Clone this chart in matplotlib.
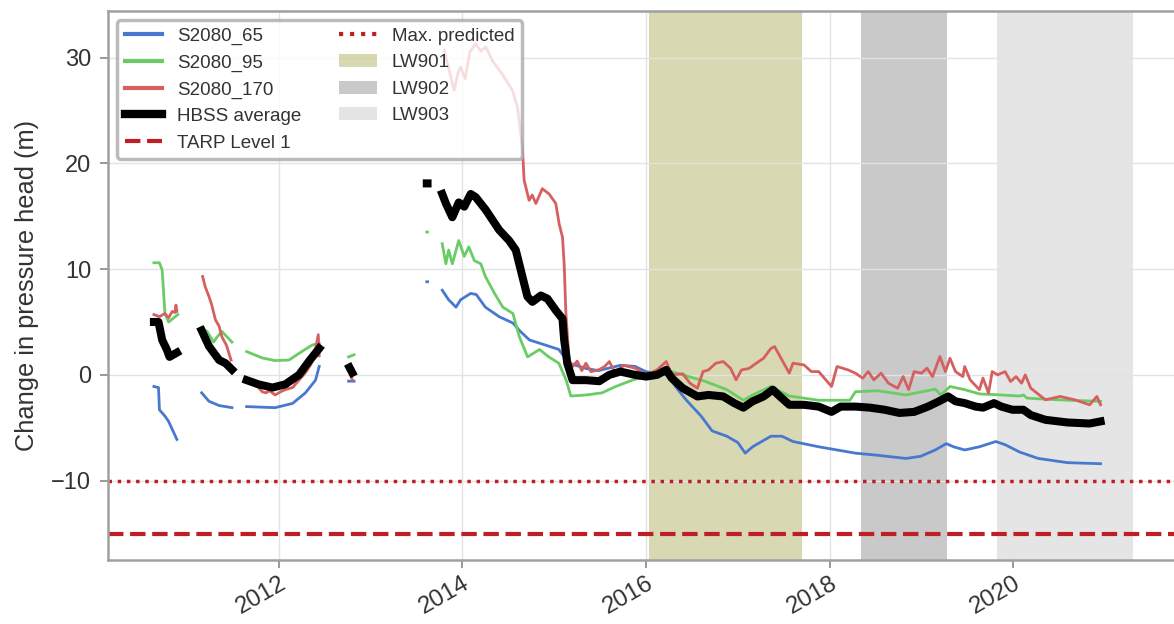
import numpy as np
import matplotlib.pyplot as plt
from matplotlib.patches import Patch
from matplotlib.lines import Line2D

plt.rcParams['font.family'] = ['Liberation Sans', 'DejaVu Sans']

nan = np.nan

# S2080 piezometer at 65 m (decimal year, change in head in m); nan = data gap
yr_65 = [2010.64, 2010.69, 2010.70, 2010.76, 2010.80, 2010.89, 2011.0,
         2011.16, 2011.24, 2011.35, 2011.49, 2011.55,
         2011.65, 2011.80, 2011.96, 2012.15, 2012.29, 2012.40, 2012.44, 2012.6,
         2012.76, 2012.82, 2013.0,
         2013.612, 2013.620, 2013.7,
         2013.78, 2013.85, 2013.93, 2013.98, 2014.09, 2014.15, 2014.25, 2014.40,
         2014.55, 2014.62, 2014.73, 2014.91, 2015.05, 2015.16, 2015.35, 2015.48,
         2015.72, 2015.88, 2016.0, 2016.24, 2016.32, 2016.44, 2016.6, 2016.72,
         2016.88, 2017.0, 2017.08, 2017.16, 2017.36, 2017.48, 2017.6, 2017.88,
         2018.28, 2018.52, 2018.83, 2018.99, 2019.15, 2019.27, 2019.35, 2019.47,
         2019.63, 2019.81, 2019.91, 2020.07, 2020.27, 2020.59, 2020.95]
s2080_65 = [-1.1, -1.2, -3.3, -3.9, -4.4, -6.1, nan,
            -1.7, -2.5, -2.9, -3.1, nan,
            -3.0, -3.05, -3.1, -2.7, -1.7, -0.5, 0.8, nan,
            -0.6, -0.6, nan,
            8.8, 8.8, nan,
            8.0, 7.1, 6.4, 7.1, 7.7, 7.6, 6.4, 5.5,
            4.9, 4.2, 3.3, 2.8, 2.4, 1.1, 0.6, 0.4,
            0.9, 0.8, 0.3, 0.0, -1.1, -2.4, -3.9, -5.3,
            -5.8, -6.4, -7.4, -6.8, -5.8, -5.8, -6.3, -6.8,
            -7.4, -7.6, -7.9, -7.7, -7.1, -6.5, -6.8, -7.1,
            -6.8, -6.3, -6.6, -7.3, -7.9, -8.3, -8.4]

# S2080 piezometer at 95 m
yr_95 = [2010.64, 2010.70, 2010.73, 2010.76, 2010.80, 2010.90, 2011.0,
         2011.16, 2011.22, 2011.29, 2011.33, 2011.38, 2011.49, 2011.55,
         2011.65, 2011.82, 2011.96, 2012.11, 2012.25, 2012.36, 2012.44, 2012.6,
         2012.76, 2012.82, 2013.0,
         2013.612, 2013.620, 2013.7,
         2013.78, 2013.82, 2013.85, 2013.89, 2013.96, 2014.02, 2014.07, 2014.13,
         2014.20, 2014.25, 2014.35, 2014.44, 2014.55, 2014.62, 2014.71, 2014.84,
         2014.94, 2015.05, 2015.13, 2015.18, 2015.35, 2015.52, 2015.67, 2015.85,
         2016.0, 2016.22, 2016.28, 2016.64, 2016.88, 2017.06, 2017.16, 2017.36,
         2017.56, 2017.88, 2018.22, 2018.28, 2018.52, 2018.83, 2019.15, 2019.21,
         2019.31, 2019.47, 2019.63, 2019.87, 2020.07, 2020.11, 2020.15, 2020.35,
         2020.6, 2020.95]
s2080_95 = [10.6, 10.6, 9.9, 5.8, 5.0, 5.7, nan,
            4.4, 4.1, 3.1, 3.6, 4.1, 3.1, nan,
            2.2, 1.6, 1.35, 1.4, 2.2, 2.8, 3.0, nan,
            1.7, 1.9, nan,
            13.5, 13.5, nan,
            12.4, 10.5, 11.8, 10.5, 12.7, 11.2, 12.1, 10.8,
            10.5, 9.3, 7.7, 6.4, 5.8, 3.6, 1.7, 2.4,
            1.7, 1.1, -0.5, -2.0, -1.9, -1.7, -1.1, -0.5,
            -0.15, 0.3, 0.3, -0.6, -1.4, -2.4, -1.9, -1.1,
            -2.0, -2.4, -2.4, -1.6, -1.5, -1.9, -1.35, -1.9,
            -1.1, -1.4, -1.8, -1.9, -2.0, -1.9, -2.2, -2.3,
            -2.4, -2.5]

# S2080 piezometer at 170 m
yr_170 = [2010.64, 2010.70, 2010.76, 2010.80, 2010.84, 2010.87, 2010.88, 2010.89, 2011.0,
          2011.17, 2011.20, 2011.24, 2011.27, 2011.31, 2011.35, 2011.38, 2011.43, 2011.48, 2011.55,
          2011.65, 2011.72, 2011.78, 2011.82, 2011.86, 2011.90, 2011.96, 2012.02, 2012.07,
          2012.15, 2012.22, 2012.29, 2012.35, 2012.40, 2012.43, 2012.44, 2012.6,
          2012.79, 2012.80, 2013.0,
          2013.80, 2013.85, 2013.91, 2013.95, 2013.98, 2014.03, 2014.08, 2014.145,
          2014.20, 2014.254, 2014.30, 2014.326, 2014.435, 2014.545, 2014.60, 2014.653,
          2014.672, 2014.726, 2014.76, 2014.80, 2014.87, 2014.944, 2015.017, 2015.053,
          2015.09, 2015.108, 2015.127, 2015.162, 2015.20, 2015.25, 2015.30, 2015.345,
          2015.40, 2015.49, 2015.55, 2015.60, 2015.66, 2015.76, 2015.88, 2016.0,
          2016.12, 2016.22, 2016.28, 2016.40, 2016.48, 2016.56, 2016.62, 2016.68,
          2016.76, 2016.84, 2016.92, 2016.98, 2017.04, 2017.12, 2017.20, 2017.28,
          2017.36, 2017.40, 2017.44, 2017.48, 2017.56, 2017.60, 2017.72, 2017.80,
          2017.88, 2018.02, 2018.08, 2018.20, 2018.28, 2018.36, 2018.42, 2018.48,
          2018.56, 2018.64, 2018.74, 2018.80, 2018.86, 2018.92, 2019.00, 2019.06,
          2019.12, 2019.20, 2019.26, 2019.31, 2019.37, 2019.45, 2019.47, 2019.53,
          2019.63, 2019.67, 2019.73, 2019.77, 2019.83, 2019.91, 2019.97, 2020.03,
          2020.09, 2020.13, 2020.19, 2020.35, 2020.51, 2020.67, 2020.83, 2020.91,
          2020.95]
s2080_170 = [5.7, 5.5, 5.8, 5.4, 6.0, 5.9, 6.6, 6.0, nan,
             9.3, 8.3, 7.4, 6.6, 5.2, 4.6, 3.6, 2.8, 1.4, nan,
             -0.6, -0.9, -1.2, -1.6, -1.7, -1.5, -1.9, -1.6, -1.4,
             -1.2, -0.5, 0.2, 1.0, 2.4, 3.8, 1.8, nan,
             0.0, -0.5, nan,
             30.7, 29.0, 26.9, 28.5, 29.1, 28.0, 30.5, 31.3,
             30.6, 31.0, 30.2, 29.7, 28.4, 26.9, 25.3, 21.5,
             18.4, 16.5, 17.0, 16.2, 17.6, 17.1, 16.2, 14.3,
             13.0, 10.5, 5.8, 1.4, 0.8, 1.3, 0.4, 1.1,
             0.3, 0.5, 0.8, 1.26, 0.2, 0.9, 0.63, 0.0,
             0.47, 1.26, 0.0, 0.1, -0.8, -1.26, 0.31, 0.47,
             1.1, 1.26, 0.63, -0.47, 0.47, 0.6, 1.1, 1.57,
             2.5, 2.67, 2.04, 1.41, 0.16, 1.1, 0.94, 0.31,
             0.31, -1.1, 0.79, 0.47, 0.16, -0.31, 0.31, -0.47,
             0.16, -0.79, -1.26, -0.16, -1.4, 0.31, 0.16, 0.63,
             -0.16, 1.73, 0.31, 1.57, 0.31, -0.16, 0.79, -0.47,
             -1.4, -0.31, -1.73, 0.31, 0.0, 0.31, -0.63, -0.16,
             -0.79, 0.0, -1.26, -2.36, -2.04, -2.36, -2.83, -2.04,
             -2.83]

# average of the HBSS piezometers
yr_avg = [2010.64, 2010.69, 2010.73, 2010.78, 2010.81, 2010.85, 2010.89, 2011.0,
          2011.16, 2011.24, 2011.35, 2011.42, 2011.49, 2011.55,
          2011.65, 2011.78, 2011.93, 2012.07, 2012.22, 2012.33, 2012.44, 2012.6,
          2012.77, 2012.80, 2013.0,
          2013.612, 2013.620, 2013.7,
          2013.78, 2013.82, 2013.89, 2013.96, 2014.02, 2014.09, 2014.145, 2014.254,
          2014.40, 2014.508, 2014.581, 2014.653, 2014.708, 2014.762, 2014.854, 2014.926,
          2015.017, 2015.09, 2015.108, 2015.142, 2015.20, 2015.345, 2015.49, 2015.60,
          2015.72, 2015.88, 2016.0, 2016.12, 2016.22, 2016.28, 2016.40, 2016.56,
          2016.68, 2016.84, 2016.96, 2017.06, 2017.16, 2017.28, 2017.38, 2017.44,
          2017.56, 2017.72, 2017.88, 2018.02, 2018.12, 2018.28, 2018.44, 2018.60,
          2018.76, 2018.92, 2019.07, 2019.19, 2019.29, 2019.37, 2019.47, 2019.59,
          2019.67, 2019.79, 2019.87, 2019.99, 2020.11, 2020.19, 2020.35, 2020.59,
          2020.83, 2020.95]
hbss_avg = [5.0, 5.0, 3.3, 2.4, 1.7, 1.9, 2.1, nan,
            4.2, 2.7, 1.4, 1.1, 0.5, nan,
            -0.5, -0.9, -1.2, -0.9, 0.0, 1.3, 2.5, nan,
            0.7, 0.2, nan,
            18.1, 18.1, nan,
            17.1, 16.2, 14.9, 16.3, 15.9, 17.1, 16.8, 15.6,
            13.7, 12.7, 11.8, 9.3, 7.4, 6.9, 7.5, 7.2,
            6.1, 5.3, 3.3, 1.1, -0.5, -0.5, -0.6, 0.0,
            0.31, 0.0, -0.16, 0.0, 0.47, -0.31, -1.26, -2.04,
            -1.9, -2.04, -2.67, -3.1, -2.5, -2.04, -1.4, -1.9,
            -2.83, -2.83, -3.0, -3.5, -3.0, -3.0, -3.1, -3.3,
            -3.6, -3.5, -3.0, -2.5, -2.04, -2.5, -2.67, -3.0,
            -3.1, -2.67, -3.0, -3.3, -3.3, -3.8, -4.25, -4.5,
            -4.6, -4.4]

tarp_level1 = -15
max_predicted = -10

# longwall extraction periods
panels = ['LW901', 'LW902', 'LW903']
panel_start = [2016.03, 2018.34, 2019.82]
panel_end = [2017.70, 2019.28, 2021.30]
panel_colors = ['olive', 'grey', 'grey']
panel_alpha = [0.3, 0.42, 0.2]

c65, c95, c170 = '#4878d0', '#6acc64', '#d65f5f'
tarp_color = '#bf1e24'

fig = plt.figure(figsize=(11.74, 6.24), dpi=100)
ax = fig.add_axes([0.092, 0.1026, 0.908, 0.8798])

for s, e, c, a in zip(panel_start, panel_end, panel_colors, panel_alpha):
    ax.axvspan(s, e, color=c, alpha=a, lw=0, zorder=0.5)

ax.plot(yr_65, s2080_65, color=c65, lw=2.0, zorder=2)
ax.plot(yr_95, s2080_95, color=c95, lw=2.0, zorder=2)
ax.plot(yr_170, s2080_170, color=c170, lw=2.0, zorder=2)
ax.plot(yr_avg, hbss_avg, color='black', lw=5.8, zorder=3)

ax.axhline(tarp_level1, color=tarp_color, ls='--', lw=3, zorder=2)
ax.axhline(max_predicted, color=tarp_color, ls=':', lw=2.5, zorder=2)

ax.set_xlim(2010.14, 2021.75)
ax.set_ylim(-17.5, 34.4)
ax.set_xticks([2012, 2014, 2016, 2018, 2020])
ax.set_xticklabels(['2012', '2014', '2016', '2018', '2020'],
                   rotation=30, ha='right', rotation_mode='anchor')
ax.set_yticks([-10, 0, 10, 20, 30])
ax.tick_params(axis='both', labelsize=17, colors='#333333', length=6,
               width=1.2, direction='out', pad=6)
ax.tick_params(axis='x', labelsize=17.5, pad=3)
ax.tick_params(axis='both', color='#888888')
ax.set_ylabel('Change in pressure head (m)', fontsize=18.3, color='#333333',
              labelpad=9)

ax.grid(True, color='#e3e3e3', lw=1.0, zorder=0)
ax.set_axisbelow(True)
for side in ['left', 'bottom', 'top']:
    ax.spines[side].set_color('#a0a0a0')
    ax.spines[side].set_linewidth(1.8)
ax.spines['right'].set_visible(False)

handles = [
    Line2D([], [], color=c65, lw=3),
    Line2D([], [], color=c95, lw=3),
    Line2D([], [], color=c170, lw=3),
    Line2D([], [], color='black', lw=6),
    Line2D([], [], color=tarp_color, ls='--', lw=3),
    Line2D([], [], color=tarp_color, ls=':', lw=3),
]
labels = ['S2080_65', 'S2080_95', 'S2080_170', 'HBSS average', 'TARP Level 1',
          'Max. predicted']
for name, c, a in zip(panels, panel_colors, panel_alpha):
    handles.append(Patch(facecolor=c, alpha=a, lw=0))
    labels.append(name)

leg = ax.legend(handles, labels, loc='upper left', ncol=2, fontsize=13.5,
                frameon=True, framealpha=0.8, edgecolor='#aaaaaa',
                fancybox=True, labelspacing=0.5, handlelength=2.0,
                handletextpad=0.8, columnspacing=2.0)
leg.get_frame().set_linewidth(2.5)
for t in leg.get_texts():
    t.set_color('#333333')

fig.savefig('out.png', dpi=100)
